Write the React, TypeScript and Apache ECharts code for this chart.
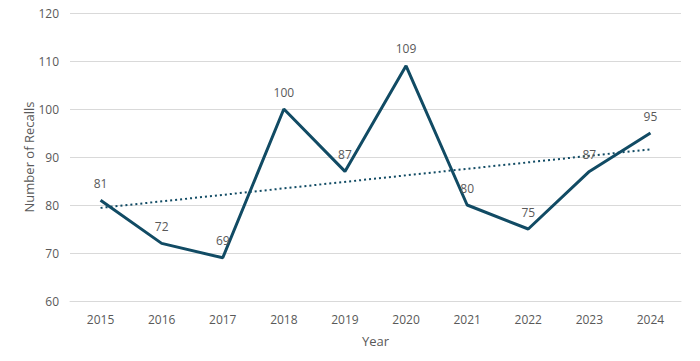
import React, { useEffect, useRef } from "react";
import * as echarts from "echarts";

const years = ["2015", "2016", "2017", "2018", "2019", "2020", "2021", "2022", "2023", "2024"];
const recalls = [81, 72, 69, 100, 87, 109, 80, 75, 87, 95];
// Linear trendline endpoints (2015 and 2024)
const trendline = [79.4, null, null, null, null, null, null, null, null, 91.6];

const LINE = "#114b64";
const TEXT = "#595959";
const FONT = "'Open Sans', 'Liberation Sans', sans-serif";

export default function App() {
  const ref = useRef<HTMLDivElement>(null);
  useEffect(() => {
    if (!ref.current) return;
    const chart = echarts.init(ref.current, undefined, { renderer: "svg" });
    chart.setOption({
      animation: false,
      grid: { left: 70, right: 19, top: 13, bottom: 60 },
      xAxis: {
        type: "category",
        data: years,
        boundaryGap: true,
        name: "Year",
        nameLocation: "middle",
        nameGap: 33,
        nameMoveOverlap: false,
        nameTextStyle: { color: TEXT, fontSize: 13, fontFamily: FONT },
        axisLine: { lineStyle: { color: "#d9d9d9", width: 1 } },
        axisTick: { show: false },
        axisLabel: { color: TEXT, fontSize: 12, fontFamily: FONT, margin: 12 },
      },
      yAxis: {
        type: "value",
        min: 60,
        max: 120,
        interval: 10,
        name: "Number of Recalls",
        nameLocation: "middle",
        nameGap: 35,
        nameMoveOverlap: false,
        nameTextStyle: { color: TEXT, fontSize: 13, fontFamily: FONT },
        axisLine: { show: false },
        axisTick: { show: false },
        axisLabel: { color: TEXT, fontSize: 12, fontFamily: FONT, margin: 11 },
        splitLine: { lineStyle: { color: "#d9d9d9", width: 1 } },
      },
      series: [
        {
          type: "line",
          data: recalls,
          symbol: "circle",
          symbolSize: 2,
          showSymbol: true,
          showAllSymbol: true,
          lineStyle: { color: LINE, width: 3 },
          itemStyle: { color: "transparent", borderWidth: 0 },
          label: {
            show: true,
            position: "top",
            distance: 10,
            color: TEXT,
            fontSize: 12,
            fontFamily: FONT,
          },
          labelLayout: { hideOverlap: false },
          z: 3,
        },
        {
          type: "line",
          data: trendline,
          connectNulls: true,
          symbol: "none",
          lineStyle: { color: LINE, width: 2, type: [2, 3] },
          z: 2,
        },
      ],
    });
    return () => chart.dispose();
  }, []);
  return (
    <div
      ref={ref}
      style={{ position: "absolute", left: 0, top: 0, width: 700, height: 361 }}
    />
  );
}
